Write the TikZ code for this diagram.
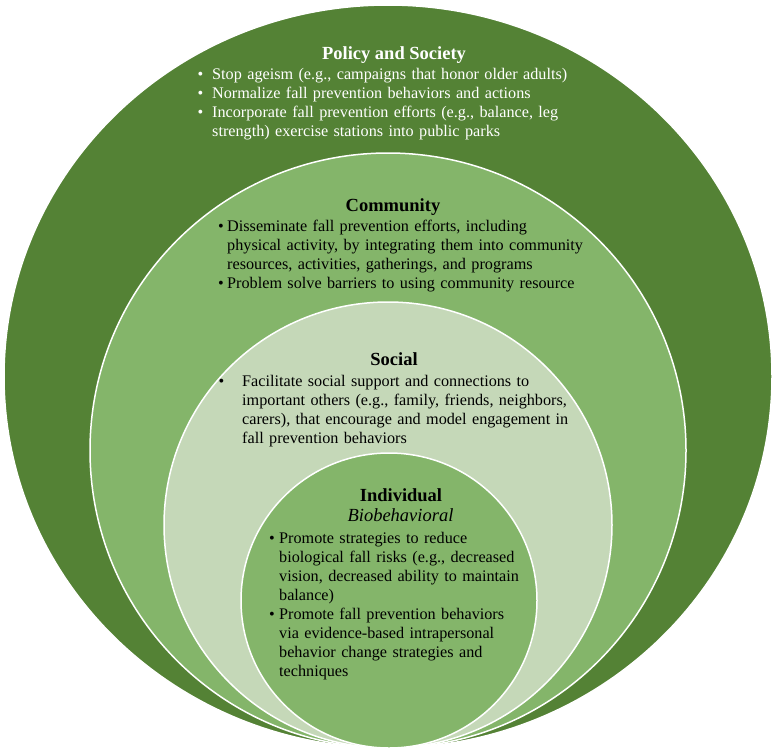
\documentclass[tikz,border=0pt]{standalone}
\usepackage{fontspec}
\setmainfont{Liberation Serif}
\usepackage{enumitem}
\setlist[itemize]{label=\textbullet, leftmargin=24pt, itemsep=0pt, topsep=0pt, parsep=0pt, partopsep=0pt}

\definecolor{policygreen}{HTML}{548235}
\definecolor{communitygreen}{HTML}{84B56A}
\definecolor{socialgreen}{HTML}{C5D8B8}
\definecolor{individualgreen}{HTML}{84B56A}

\newcommand{\ringsize}{\fontsize{16.2}{19}\selectfont}
\newcommand{\titlesize}{\fontsize{18.5}{21}\selectfont}

\tikzset{
    ring/.style={draw=white, line width=1.5pt},
    ringtitle/.style={anchor=base, inner sep=0pt, font=\titlesize\bfseries},
    ringlist/.style={anchor=base west, inner sep=0pt, text width=420pt, align=left, font=\ringsize}
}

\begin{document}
\begin{tikzpicture}[x=1pt, y=-1pt]
        \useasboundingbox (0, 0) rectangle (776, 753);

        % nested levels, all touching at the bottom
        \filldraw[ring, fill=policygreen] (388, 376.5) ellipse [x radius=384pt, y radius=371.5pt];
        \filldraw[ring, fill=communitygreen] (388, 450.5) ellipse [x radius=298pt, y radius=297.5pt];
        \filldraw[ring, fill=socialgreen] (388, 525) ellipse [x radius=224pt, y radius=223pt];
        \filldraw[ring, fill=individualgreen] (389, 600.5) ellipse [x radius=148pt, y radius=147.5pt];

        % policy and society
        \node[ringtitle, text=white] (policy) at (394, 59) {Policy and Society};
        \node[ringlist, text=white] (policy-list) at (188, 60) {%
            \begin{itemize}[labelsep=9pt]
                \item Stop ageism (e.g., campaigns that honor older adults)
                \item Normalize fall prevention behaviors and actions
                \item Incorporate fall prevention efforts (e.g., balance, leg\newline
                      strength) exercise stations into public parks
            \end{itemize}};

        % community
        \node[ringtitle] (community) at (393, 211.5) {Community};
        \node[ringlist] (community-list) at (203, 212.5) {%
            \begin{itemize}[labelsep=3.5pt]
                \item Disseminate fall prevention efforts, including\newline
                      physical activity, by integrating them into community\newline
                      resources, activities, gatherings, and programs
                \item Problem solve barriers to using community resource
            \end{itemize}};

        % social
        \node[ringtitle] (social) at (394, 365) {Social};
        \node[ringlist] (social-list) at (218, 367) {%
            \begin{itemize}[labelsep=18pt]
                \item Facilitate social support and connections to\newline
                      important others (e.g., family, friends, neighbors,\newline
                      carers), that encourage and model engagement in\newline
                      fall prevention behaviors
            \end{itemize}};

        % individual
        \node[ringtitle] (individual) at (401, 501.5) {Individual};
        \node[anchor=base, inner sep=0pt, font=\titlesize\itshape] (biobehavioral) at (400.5, 521.5) {Biobehavioral};
        \node[ringlist] (individual-list) at (255, 524) {%
            \begin{itemize}[labelsep=4.5pt]
                \item Promote strategies to reduce\newline
                      biological fall risks (e.g., decreased\newline
                      vision, decreased ability to maintain\newline
                      balance)
                \item Promote fall prevention behaviors\newline
                      via evidence-based intrapersonal\newline
                      behavior change strategies and\newline
                      techniques
            \end{itemize}};
    \end{tikzpicture}
\end{document}
